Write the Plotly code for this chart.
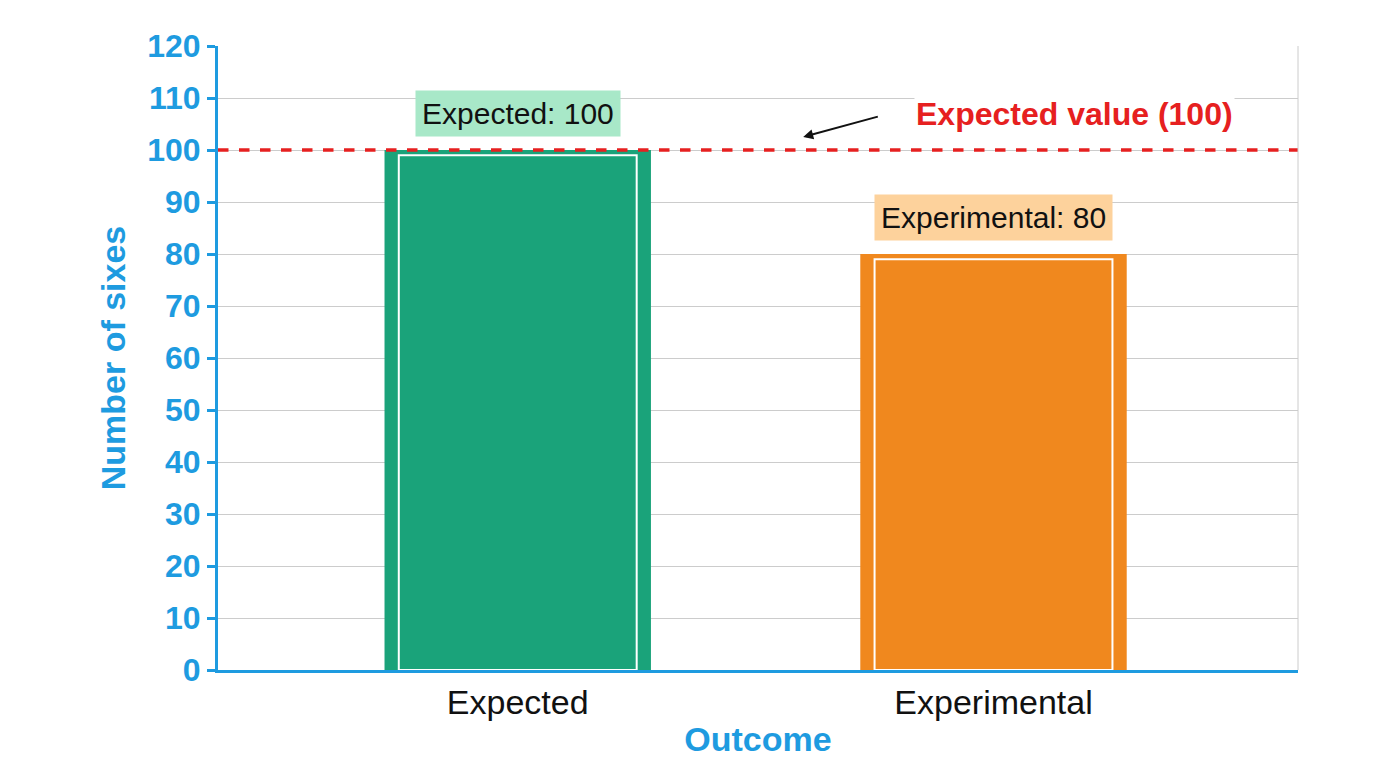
import plotly.graph_objects as go

categories = ["Expected", "Experimental"]
values = [100, 80]
colors = ["#1aa37a", "#f0881e"]
label_bg = ["#a8e8c8", "#fdd29c"]
expected_value = 100
blue = "#1e9be0"

fig = go.Figure()
fig.add_trace(go.Bar(x=categories, y=values, width=0.56,
                     marker=dict(color=colors, line=dict(width=0))))
# thin white inner outline
fig.add_trace(go.Bar(x=categories, y=[v - 1 for v in values], width=0.5,
                     marker=dict(color="rgba(0,0,0,0)", line=dict(color="white", width=2))))

fig.add_hline(y=expected_value, line=dict(color="#e62020", width=3.5, dash="dash"))

for i, (c, v) in enumerate(zip(categories, values)):
    fig.add_annotation(x=c, y=v + 7, text=f"{c}: {v}", showarrow=False,
                       font=dict(size=30, color="#111"), bgcolor=label_bg[i],
                       borderpad=6)

fig.add_annotation(x=0.6, y=102.5, xref="x", yref="y", ax=0.76, ay=106.5,
                   axref="x", ayref="y", text="", showarrow=True,
                   arrowhead=2, arrowsize=1, arrowwidth=2, arrowcolor="#111",
                   standoff=0)
fig.add_annotation(x=1.17, y=107, text="<b>Expected value (100)</b>", showarrow=False,
                   font=dict(size=32, color="#e62020"), bgcolor="white")

fig.update_layout(
    width=1376, height=768, showlegend=False, barmode="overlay",
    plot_bgcolor="white", paper_bgcolor="white",
    margin=dict(l=210, r=86, t=38, b=106),
    font=dict(family="Liberation Sans, Arial, sans-serif"),
)
fig.update_xaxes(type="category", range=[-0.63, 1.64],
                 tickfont=dict(size=34, color="#111"),
                 title=dict(text="<b>Outcome</b>", font=dict(size=34, color=blue), standoff=8),
                 showline=True, linecolor=blue, linewidth=3, ticks="")
fig.update_yaxes(range=[0, 120], dtick=10,
                 tickfont=dict(size=32, color=blue, weight="bold"),
                 title=dict(text="<b>Number of sixes</b>", font=dict(size=34, color=blue), standoff=12),
                 showline=True, linecolor=blue, linewidth=3,
                 ticks="outside", tickcolor=blue, ticklen=8, tickwidth=3,
                 showgrid=True, gridcolor="#cccccc", gridwidth=1)
fig.add_shape(type="line", xref="paper", yref="paper", x0=1, x1=1, y0=0, y1=1,
              line=dict(color="#cccccc", width=1))

fig.write_html("out.html")
